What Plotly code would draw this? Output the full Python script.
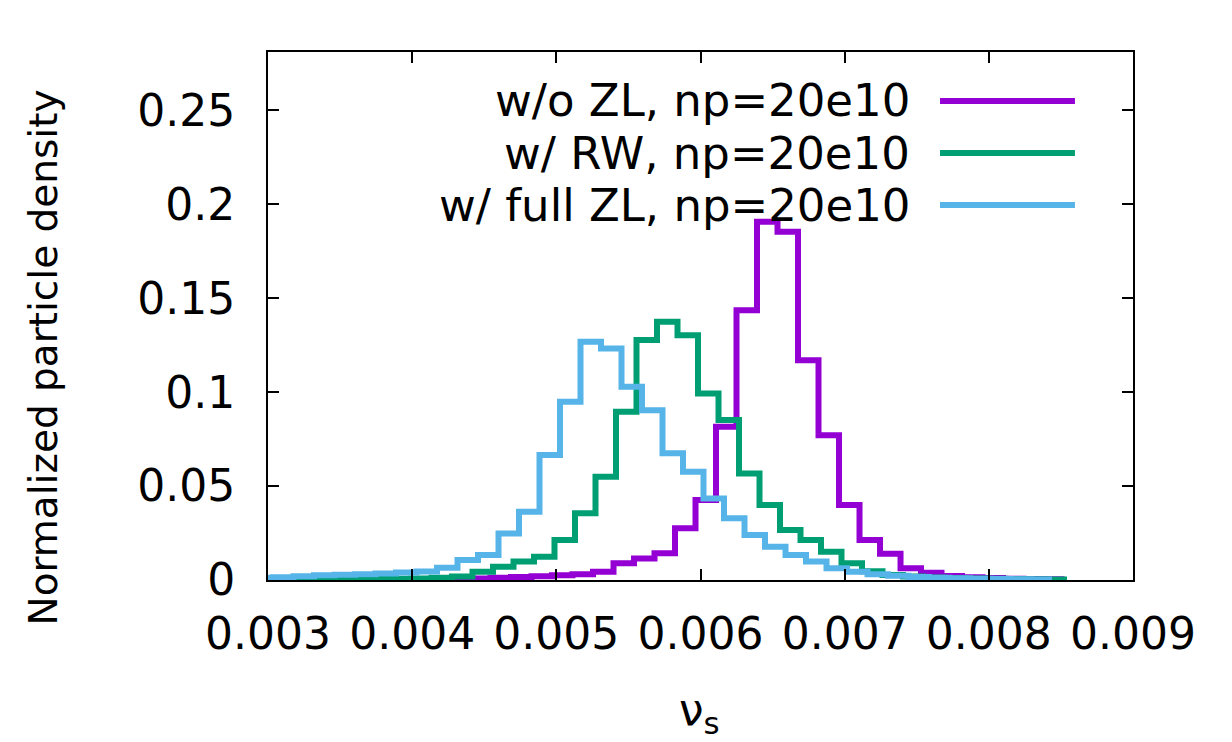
import plotly.graph_objects as go

# ---- data ----
BIN_WIDTH = 0.0001422

series_names = ["w/o ZL, np=20e10", "w/ RW, np=20e10", "w/ full ZL, np=20e10"]
series_colors = ["#9400D3", "#009E73", "#56B4E9"]

purple_start = 0.0038324
purple_density = [0.0003, 0.0004, 0.0005, 0.0006, 0.0008, 0.0012, 0.0016, 0.0020, 0.0025, 0.0030,
                  0.0044, 0.0089, 0.0115, 0.0142, 0.0275, 0.0426, 0.0816, 0.1436, 0.1906, 0.1853,
                  0.1170, 0.0771, 0.0399, 0.0213, 0.0140, 0.0062, 0.0039, 0.0021, 0.0015, 0.0010,
                  0.0007, 0.0005, 0.0004]

green_start = 0.0029965
green_density = [0.0002, 0.0002, 0.0003, 0.0003, 0.0004, 0.0005, 0.0006, 0.0008, 0.0012, 0.0018,
                 0.0044, 0.0071, 0.0098, 0.0124, 0.0213, 0.0355, 0.0550, 0.0895, 0.1277, 0.1374,
                 0.1303, 0.0993, 0.0851, 0.0567, 0.0399, 0.0266, 0.0213, 0.0150, 0.0089, 0.0047,
                 0.0027, 0.0018, 0.0013, 0.0010, 0.0008, 0.0006, 0.0005, 0.0004, 0.0003]

blue_start = 0.0028925
blue_density = [0.0012, 0.0015, 0.0020, 0.0025, 0.0028, 0.0030, 0.0035, 0.0040, 0.0045, 0.0065,
                0.0106, 0.0133, 0.0248, 0.0363, 0.0665, 0.0949, 0.1268, 0.1232, 0.1028, 0.0904,
                0.0674, 0.0576, 0.0434, 0.0328, 0.0239, 0.0177, 0.0133, 0.0098, 0.0062, 0.0044,
                0.0030, 0.0022, 0.0016, 0.0012, 0.0009, 0.0007, 0.0005, 0.0004, 0.0003]

x_tickvals = [0.003, 0.004, 0.005, 0.006, 0.007, 0.008, 0.009]
x_ticktext = ["0.003", "0.004", "0.005", "0.006", "0.007", "0.008", "0.009"]
y_tickvals = [0, 0.05, 0.1, 0.15, 0.2, 0.25]
y_ticktext = ["0", "0.05", "0.1", "0.15", "0.2", "0.25"]

FONT = "DejaVu Sans"
FS = 44
LW = 6

fig = go.Figure()

starts = [purple_start, green_start, blue_start]
dens = [purple_density, green_density, blue_density]
for name, color, s, d in zip(series_names, series_colors, starts, dens):
    xs = [s + i * BIN_WIDTH for i in range(len(d) + 1)]
    ys = list(d) + [d[-1]]
    fig.add_trace(go.Scatter(x=xs, y=ys, mode="lines", name=name,
                             line=dict(color=color, width=LW, shape="hv"),
                             showlegend=False, cliponaxis=True))

axis_common = dict(showline=True, linecolor="black", linewidth=2, mirror="ticks",
                   ticks="inside", ticklen=11, tickwidth=2, tickcolor="black",
                   showgrid=False, zeroline=False,
                   tickfont=dict(family=FONT, size=FS, color="black"))

fig.update_xaxes(range=[0.003, 0.009], tickvals=x_tickvals, ticktext=x_ticktext,
                 ticklabelstandoff=14, **axis_common)
fig.update_yaxes(range=[0, 0.281], tickvals=y_tickvals, ticktext=y_ticktext,
                 ticklabelstandoff=22, **axis_common)

# axis titles
fig.add_annotation(text="Normalized particle density", xref="paper", yref="paper",
                   x=-0.2595, y=0.4205, textangle=-90, showarrow=False,
                   xanchor="center", yanchor="middle",
                   font=dict(family=FONT, size=39, color="black"))
fig.add_annotation(text="ν<sub>s</sub>", xref="paper", yref="paper",
                   x=0.4994, y=-0.25, showarrow=False, xanchor="center", yanchor="middle",
                   font=dict(family=FONT, size=FS, color="black"))

# gnuplot-style key: text right-aligned, sample line to the right
key_rows_y = [0.9072, 0.8087, 0.7102]
for name, color, ky in zip(series_names, series_colors, key_rows_y):
    fig.add_annotation(text=name, xref="paper", yref="paper", x=0.7445, y=ky,
                       showarrow=False, xanchor="right", yanchor="middle",
                       font=dict(family=FONT, size=45, color="black"))
    fig.add_shape(type="line", xref="paper", yref="paper", x0=0.7769, x1=0.9329,
                  y0=ky, y1=ky, line=dict(color=color, width=LW))

# page body has an 8px default margin, so margins are offset by 8px
fig.update_layout(width=1232, height=742, paper_bgcolor="white", plot_bgcolor="white",
                  margin=dict(l=260, r=107, t=44, b=170), showlegend=False,
                  font=dict(family=FONT, size=FS, color="black"))

fig.write_html("out.html")
